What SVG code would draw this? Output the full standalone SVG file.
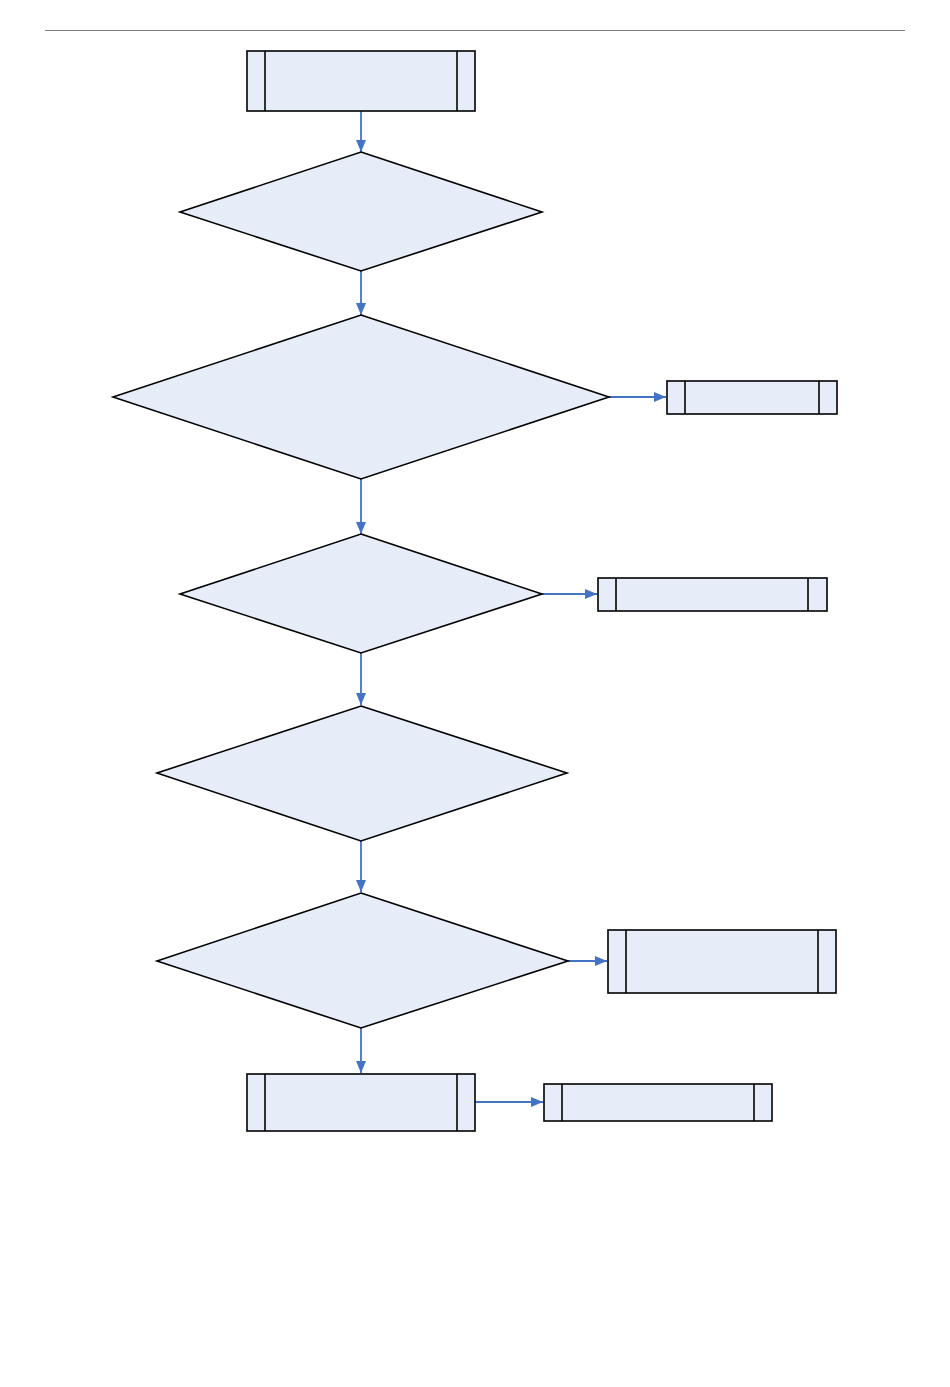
<svg xmlns="http://www.w3.org/2000/svg" width="950" height="1387" viewBox="0 0 950 1387">
<defs>
<marker id="ah" viewBox="0 0 12 10" refX="12" refY="5" markerWidth="12" markerHeight="10" markerUnits="userSpaceOnUse" orient="auto">
<path d="M0,0 L12,5 L0,10 z" fill="#4472C4"/>
</marker>
<style>
.n{fill:#E6EDF8;stroke:#000;stroke-width:1.6}
.d{stroke:#000;stroke-width:1.6}
.c{stroke:#4472C4;stroke-width:1.8;fill:none;marker-end:url(#ah)}
</style>
</defs>
<rect width="950" height="1387" fill="#fff"/>
<line x1="45" y1="30.5" x2="905" y2="30.5" stroke="#808080" stroke-width="1"/>
<g id="connectors">
<line class="c" x1="361" y1="111" x2="361" y2="152"/>
<line class="c" x1="361" y1="271" x2="361" y2="315"/>
<line class="c" x1="609" y1="397" x2="666" y2="397"/>
<line class="c" x1="361" y1="479" x2="361" y2="534"/>
<line class="c" x1="542" y1="594" x2="597" y2="594"/>
<line class="c" x1="361" y1="653" x2="361" y2="705"/>
<line class="c" x1="361" y1="841" x2="361" y2="892"/>
<line class="c" x1="568" y1="961" x2="607" y2="961"/>
<line class="c" x1="361" y1="1028" x2="361" y2="1073"/>
<line class="c" x1="475" y1="1102" x2="543" y2="1102"/>
</g>
<g id="start">
<rect class="n" x="247" y="51" width="228" height="60"/>
<line class="d" x1="265" y1="51" x2="265" y2="111"/>
<line class="d" x1="457" y1="51" x2="457" y2="111"/>
</g>
<g id="d1"><polygon class="n" points="361,152 542,212 361,271 180,212"/></g>
<g id="d2"><polygon class="n" points="361,315 609,397 361,479 113,397"/></g>
<g id="r1">
<rect class="n" x="667" y="381" width="170" height="33"/>
<line class="d" x1="685" y1="381" x2="685" y2="414"/>
<line class="d" x1="819" y1="381" x2="819" y2="414"/>
</g>
<g id="d3"><polygon class="n" points="361,534 542,594 361,653 180,594"/></g>
<g id="r2">
<rect class="n" x="598" y="578" width="229" height="33"/>
<line class="d" x1="616" y1="578" x2="616" y2="611"/>
<line class="d" x1="808" y1="578" x2="808" y2="611"/>
</g>
<g id="d4"><polygon class="n" points="361,706 567,773 361,841 157,773"/></g>
<g id="d5"><polygon class="n" points="361,893 568,961 361,1028 157,961"/></g>
<g id="r3">
<rect class="n" x="608" y="930" width="228" height="63"/>
<line class="d" x1="626" y1="930" x2="626" y2="993"/>
<line class="d" x1="818" y1="930" x2="818" y2="993"/>
</g>
<g id="end">
<rect class="n" x="247" y="1074" width="228" height="57"/>
<line class="d" x1="265" y1="1074" x2="265" y2="1131"/>
<line class="d" x1="457" y1="1074" x2="457" y2="1131"/>
</g>
<g id="r4">
<rect class="n" x="544" y="1084" width="228" height="37"/>
<line class="d" x1="562" y1="1084" x2="562" y2="1121"/>
<line class="d" x1="754" y1="1084" x2="754" y2="1121"/>
</g>
</svg>
